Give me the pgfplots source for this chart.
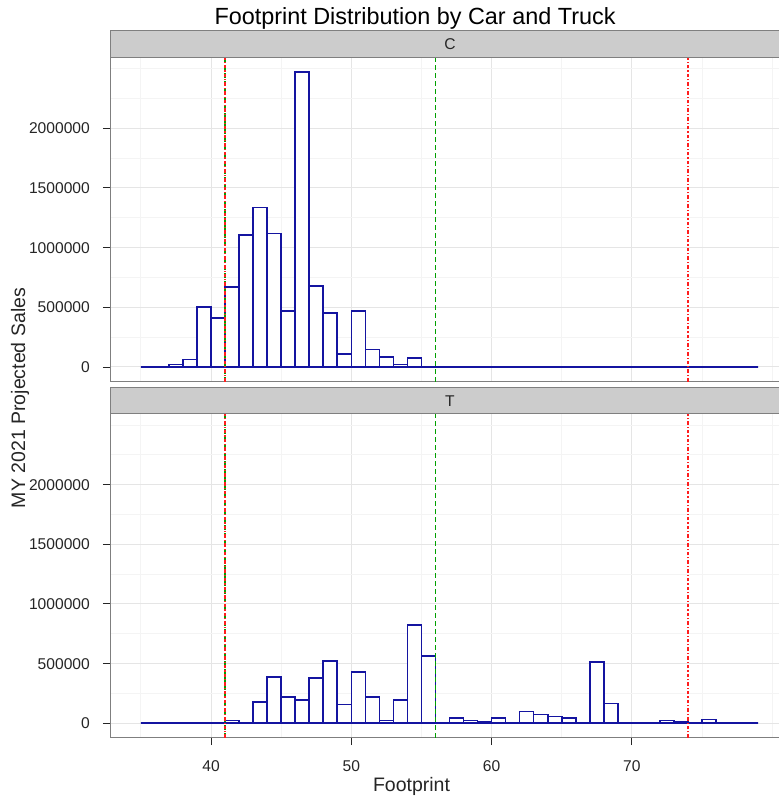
\documentclass[border=0pt]{standalone}
\usepackage{pgfplots}
\pgfplotsset{compat=1.18}
\usepackage{fontspec}
\setmainfont{Liberation Sans}

\definecolor{barblue}{RGB}{20,20,160}
\definecolor{vgreen}{RGB}{0,160,0}
\definecolor{vred}{RGB}{255,30,30}
\definecolor{gridmaj}{RGB}{229,229,229}
\definecolor{gridmin}{RGB}{244,244,244}
\definecolor{panelborder}{RGB}{127,127,127}
\definecolor{stripfill}{RGB}{204,204,204}

\pgfplotstableread{
x C T
35 0 0
36 0 0
37 22000 0
38 64000 0
39 502000 0
40 411000 0
41 669000 22000
42 1108000 0
43 1336000 178000
44 1119000 386000
45 469000 222000
46 2470000 197000
47 678000 378000
48 450000 522000
49 108000 156000
50 469000 428000
51 147000 222000
52 83000 22000
53 22000 197000
54 75000 825000
55 0 564000
56 0 0
57 0 44000
58 0 22000
59 0 11000
60 0 44000
61 0 0
62 0 97000
63 0 75000
64 0 56000
65 0 42000
66 0 0
67 0 514000
68 0 167000
69 0 0
70 0 0
71 0 0
72 0 22000
73 0 11000
74 0 0
75 0 31000
76 0 0
77 0 0
78 0 0
79 0 0
}\histdata

\pgfplotstableread{
x y
56 -123500
56 2591500
}\greenB

\pgfplotsset{
  panel/.style={
    scale only axis, width=679pt, height=324pt,
    xmin=32.8, xmax=81.2, ymin=-123500, ymax=2591500,
    xtick={40,50,60,70}, minor xtick={35,45,55,65,75,80},
    ytick={0,500000,1000000,1500000,2000000},
    minor ytick={250000,750000,1250000,1750000,2250000,2500000},
    yticklabels={0,500000,1000000,1500000,2000000},
    scaled y ticks=false, scaled x ticks=false,
    grid=both,
    major grid style={gridmaj, line width=1pt},
    minor grid style={gridmin, line width=0.8pt},
    axis line style={panelborder, line width=1pt},
    tick align=outside, tick pos=left,
    major tick length=7pt, minor tick length=0pt,
    every tick/.style={black!85, line width=0.9pt},
    tick label style={font=\fontsize{15.6}{18}\selectfont, text=black!85},
    /pgf/number format/assume math mode=true,
    yticklabel style={anchor=east, inner sep=0pt, text height=11.2pt, text depth=0pt, xshift=-13pt},
    xticklabel style={anchor=north, inner sep=0pt, text height=11.2pt, text depth=0pt, yshift=-15.3pt},
    clip=true,
  },
  hist/.style={ybar interval, draw=barblue, fill=white, line width=1.6pt},
  gline/.style={sharp plot, no markers, color=vgreen, line width=1.7pt, dash pattern=on 5pt off 3pt},
  rline/.style={sharp plot, no markers, color=vred, line width=1.4pt, dash pattern=on 3.5pt off 2pt on 1.2pt off 2pt},
}

\begin{document}
\begin{tikzpicture}
\useasboundingbox (0,0) rectangle (778pt,799pt);
\fill[white] (0,0) rectangle (778pt,799pt);

% Panel C
\begin{axis}[panel, at={(110pt,417.3pt)}, anchor=south west,
  xticklabels={}, xtick style={draw=none}]
  \addplot[hist] table[x=x, y=C] {\histdata};
  \addplot[gline] table[x=x, y=y] {\greenB};
  \addplot[gline] coordinates {(41,-123500) (41,2591500)};
  \addplot[rline] coordinates {(41,-123500) (41,2591500)};
  \addplot[rline] coordinates {(74,-123500) (74,2591500)};
\end{axis}

% Panel T
\begin{axis}[panel, at={(110pt,61pt)}, anchor=south west,
  xticklabels={40,50,60,70}]
  \addplot[hist] table[x=x, y=T] {\histdata};
  \addplot[gline] table[x=x, y=y] {\greenB};
  \addplot[gline] coordinates {(41,-123500) (41,2591500)};
  \addplot[rline] coordinates {(41,-123500) (41,2591500)};
  \addplot[rline] coordinates {(74,-123500) (74,2591500)};
\end{axis}

% strips
\draw[panelborder, fill=stripfill, line width=1pt] (110pt,741.5pt) rectangle (790pt,768pt);
\node[font=\fontsize{15.6}{18}\selectfont, text=black!85] at (450pt,754.75pt) {C};
\draw[panelborder, fill=stripfill, line width=1pt] (110pt,385pt) rectangle (790pt,411pt);
\node[font=\fontsize{15.6}{18}\selectfont, text=black!85] at (450pt,398pt) {T};

% titles
\node[anchor=base, font=\fontsize{23.4}{27}\selectfont] at (415pt,774pt) {Footprint Distribution by Car and Truck};
\node[anchor=base, font=\fontsize{19.5}{23}\selectfont, text=black!85] at (411.5pt,7pt) {Footprint};
\node[anchor=base, rotate=90, font=\fontsize{19.5}{23}\selectfont, text=black!85] at (25pt,401pt) {MY 2021 Projected Sales};
\end{tikzpicture}
\end{document}
